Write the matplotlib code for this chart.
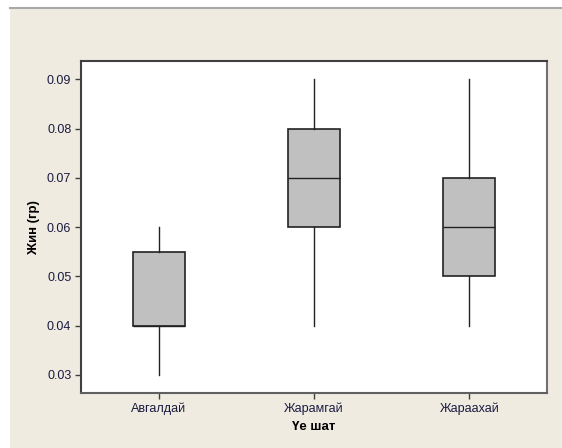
import matplotlib
matplotlib.use("Agg")
import matplotlib.pyplot as plt
from matplotlib.patches import Rectangle
from matplotlib.lines import Line2D

# data
stages = ["Авгалдай", "Жарамгай", "Жараахай"]
whisker_low = [0.03, 0.04, 0.04]
q1 = [0.04, 0.06, 0.05]
median = [0.04, 0.07, 0.06]
q3 = [0.055, 0.08, 0.07]
whisker_high = [0.06, 0.09, 0.09]
yticks = [0.03, 0.04, 0.05, 0.06, 0.07, 0.08, 0.09]

plt.rcParams['font.family'] = ['Liberation Sans', 'DejaVu Sans']

fig = plt.figure(figsize=(5.62, 4.48), dpi=100)
fig.patch.set_facecolor("white")
beige = "#efebe1"
fig.patches.append(Rectangle((10/562, 0), 1, 1 - 8/448, transform=fig.transFigure,
                             facecolor=beige, edgecolor="none", zorder=-5))
fig.lines.append(Line2D([10/562, 1], [1 - 8/448, 1 - 8/448], transform=fig.transFigure,
                        color="#a8a8a8", lw=1.5, zorder=-4))

ax = fig.add_axes([81/562, 55/448, 466/562, 332/448])
ax.set_facecolor("white")

stats = []
for i in range(len(stages)):
    stats.append(dict(whislo=whisker_low[i], q1=q1[i], med=median[i], q3=q3[i],
                      whishi=whisker_high[i], fliers=[]))

ax.bxp(stats, positions=[1, 2, 3], widths=0.335, patch_artist=True, showcaps=False,
       boxprops=dict(facecolor="#c0c0c0", edgecolor="#222222", linewidth=1.2),
       medianprops=dict(color="#222222", linewidth=1.0),
       whiskerprops=dict(color="#222222", linewidth=1.0))

ax.set_xlim(0.5, 3.5)
ax.set_ylim(0.02634, 0.0937)
ax.set_xticks([1, 2, 3])
ax.set_xticklabels(stages)
ax.set_yticks(yticks)
ax.set_yticklabels(["%.2f" % v for v in yticks])

for s in ax.spines.values():
    s.set_color("#404040")
    s.set_linewidth(1.5)
ax.spines["right"].set_color("#707070")
ax.spines["bottom"].set_color("#606060")
ax.tick_params(axis="both", direction="out", length=4, width=1, color="#404040",
               labelsize=9, labelcolor="#1a1a40", pad=3)

ax.set_xlabel("Үе шат", fontsize=9.5, fontweight="bold", labelpad=4)
ax.set_ylabel("Жин (гр)", fontsize=9.5, fontweight="bold", labelpad=5)

fig.savefig("out.png", dpi=100, facecolor=fig.get_facecolor())
